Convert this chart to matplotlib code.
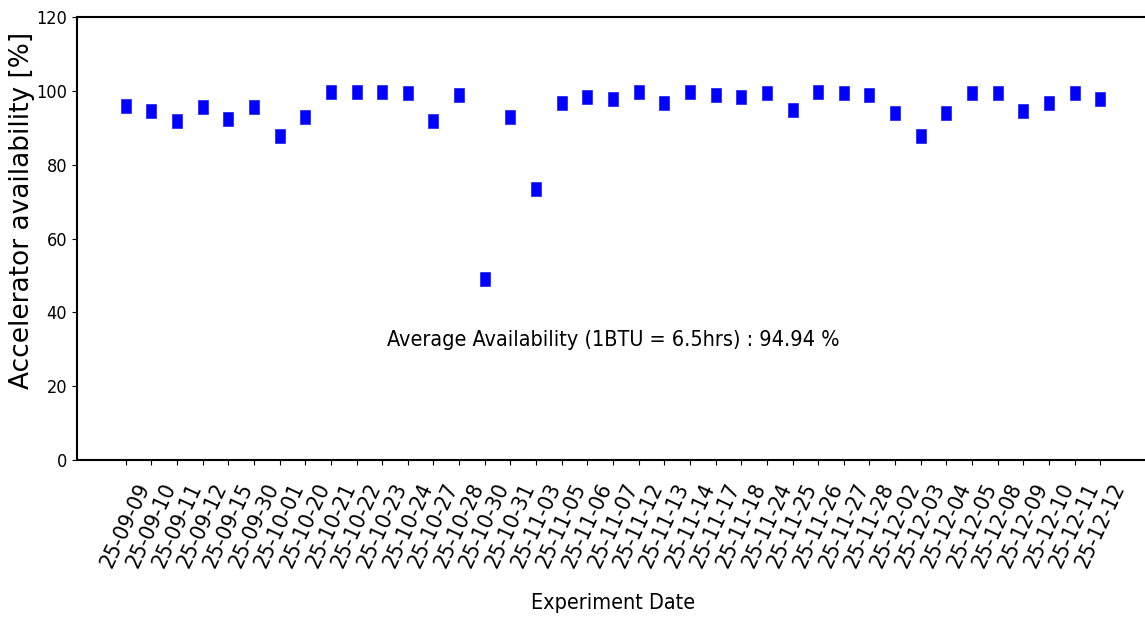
import matplotlib
matplotlib.use("Agg")
import matplotlib.pyplot as plt

dates = ["25-09-09", "25-09-10", "25-09-11", "25-09-12", "25-09-15", "25-09-30",
         "25-10-01", "25-10-20", "25-10-21", "25-10-22", "25-10-23", "25-10-24",
         "25-10-27", "25-10-28", "25-10-30", "25-10-31", "25-11-03", "25-11-05",
         "25-11-06", "25-11-07", "25-11-12", "25-11-13", "25-11-14", "25-11-17",
         "25-11-18", "25-11-24", "25-11-25", "25-11-26", "25-11-27", "25-11-28",
         "25-12-02", "25-12-03", "25-12-04", "25-12-05", "25-12-08", "25-12-09",
         "25-12-10", "25-12-11", "25-12-12"]
availability = [96.0, 94.5, 91.7, 95.7, 92.5, 95.7,
                87.9, 92.9, 99.6, 99.6, 99.6, 99.3,
                91.7, 98.8, 48.9, 92.9, 73.3, 96.8,
                98.4, 97.9, 99.6, 96.8, 99.6, 98.8,
                98.4, 99.3, 94.9, 99.6, 99.3, 98.8,
                94.1, 87.9, 94.1, 99.3, 99.3, 94.5,
                96.8, 99.3, 97.9]
yticks = [0, 20, 40, 60, 80, 100, 120]
note = "Average Availability (1BTU = 6.5hrs) : 94.94 %"

narrow_kw = {"family": "DejaVu Sans", "stretch": "condensed"}

fig = plt.figure(figsize=(11.45, 6.17), dpi=100)
ax = fig.add_axes([77 / 1145, 1 - 460 / 617, (1149 - 77) / 1145, (460 - 17) / 617])

rect = [(-0.35, -0.5), (0.35, -0.5), (0.35, 0.5), (-0.35, 0.5), (-0.35, -0.5)]
x = list(range(len(dates)))
ax.plot(x, availability, linestyle="none", marker=rect, markersize=9.6,
        color="blue", markeredgecolor="blue", markeredgewidth=0.4)

ax.set_ylim(0, 120)
ax.set_yticks(yticks)
ax.set_yticklabels([str(v) for v in yticks], fontsize=13, **narrow_kw)
ax.set_xticks(x)
ax.set_xticklabels(dates, rotation=65, ha="center", fontsize=16, **narrow_kw)
ax.tick_params(axis="x", pad=11)

for s in ax.spines.values():
    s.set_linewidth(1.5)

ax.set_ylabel("Accelerator availability [%]", fontsize=19, family="DejaVu Sans")
ax.yaxis.set_label_coords(-0.0395, 0.564)
ax.set_xlabel("Experiment Date", fontsize=15.5, **narrow_kw)
ax.xaxis.set_label_coords(0.5, -0.30)

ax.text(19, 32.5, note, ha="center", va="center", fontsize=15.5, **narrow_kw)

fig.savefig("out.png", dpi=100)
